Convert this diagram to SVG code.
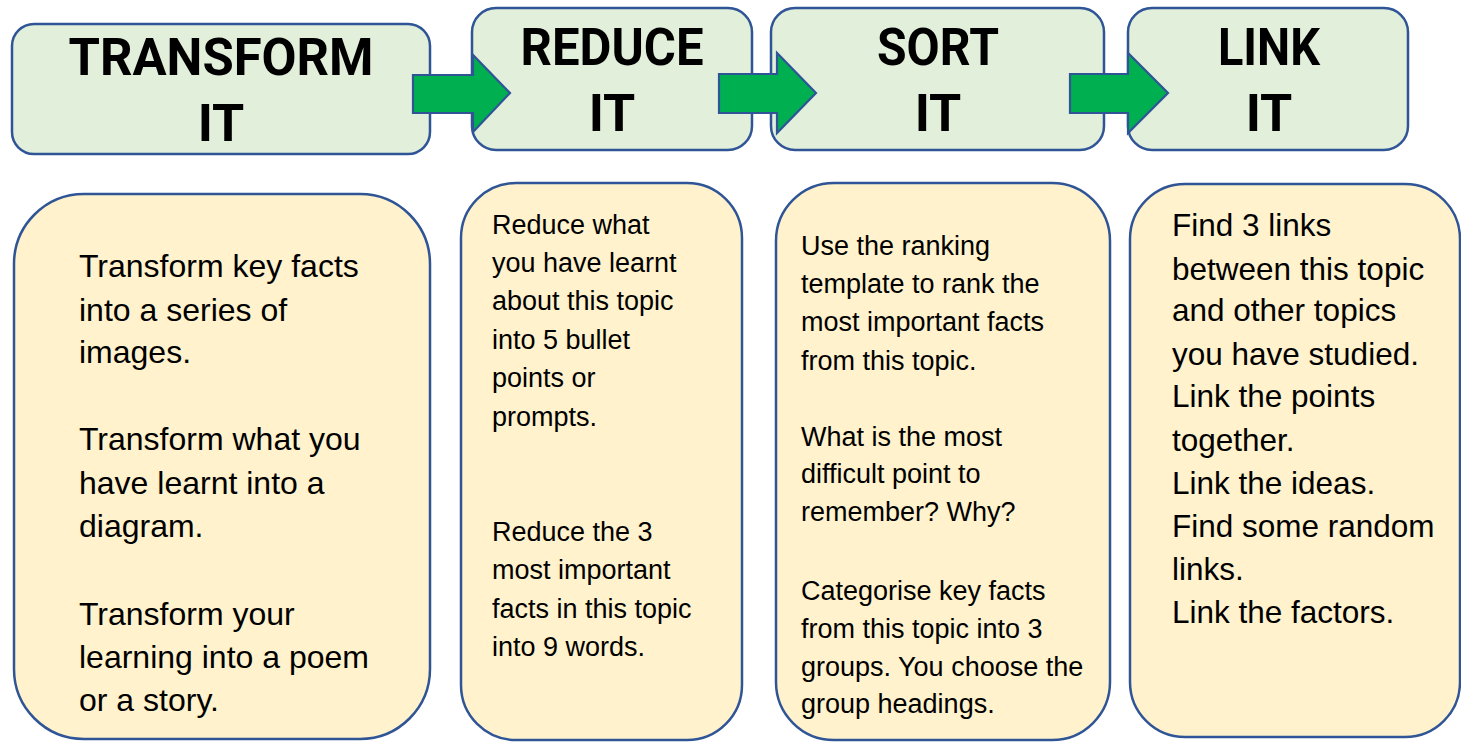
<svg xmlns="http://www.w3.org/2000/svg" width="1461" height="743" viewBox="0 0 1461 743">
<style>
.top{fill:#E2EFDA;stroke:#2F5597;stroke-width:2.5}
.card{fill:#FFF2CC;stroke:#2F5597;stroke-width:2.5}
.arrow{fill:#00B050;stroke:#2F5597;stroke-width:2.2;stroke-linejoin:miter}
.h{font-family:Roboto,"Liberation Sans",sans-serif;font-weight:700;font-size:52px;fill:#000;text-anchor:middle}
.b{font-family:"Liberation Sans",Arial,sans-serif;fill:#000}
.b1{font-size:32px}
.b2{font-size:27px}
.b3{font-size:27px}
.b4{font-size:31.5px}
</style>
<rect width="1461" height="743" fill="#FFFFFF"/>
<g id="node-transform">
<rect class="top" x="12" y="24" width="418" height="130" rx="22"/>
<text class="h" x="221" y="75" textLength="305" lengthAdjust="spacingAndGlyphs">TRANSFORM</text>
<text class="h" x="221" y="141">IT</text>
</g>
<g id="node-reduce">
<rect class="top" x="472" y="8" width="280" height="142" rx="24"/>
<text class="h" x="612" y="65" textLength="183" lengthAdjust="spacingAndGlyphs">REDUCE</text>
<text class="h" x="612" y="131">IT</text>
</g>
<g id="node-sort">
<rect class="top" x="771" y="8" width="333" height="142" rx="24"/>
<text class="h" x="938" y="65" textLength="122" lengthAdjust="spacingAndGlyphs">SORT</text>
<text class="h" x="938" y="131">IT</text>
</g>
<g id="node-link">
<rect class="top" x="1128" y="8" width="280" height="142" rx="24"/>
<text class="h" x="1269" y="65" textLength="102" lengthAdjust="spacingAndGlyphs">LINK</text>
<text class="h" x="1269" y="131">IT</text>
</g>
<g id="connectors">
<polygon class="arrow" points="413,75 473,75 473,55 510,93 473,132 473,113 413,113"/>
<polygon class="arrow" points="719,74 777,74 777,53 816,93 777,133 777,113 719,113"/>
<polygon class="arrow" points="1070,74 1128,74 1128,53 1168,93 1128,133 1128,113 1070,113"/>
</g>
<g id="card-transform">
<rect class="card" x="14" y="194" width="416" height="545" rx="70"/>
<text class="b b1" x="79" y="277">Transform key facts</text>
<text class="b b1" x="79" y="321">into a series of</text>
<text class="b b1" x="79" y="363">images.</text>
<text class="b b1" x="79" y="450">Transform what you</text>
<text class="b b1" x="79" y="494">have learnt into a</text>
<text class="b b1" x="79" y="537">diagram.</text>
<text class="b b1" x="79" y="625">Transform your</text>
<text class="b b1" x="79" y="668">learning into a poem</text>
<text class="b b1" x="79" y="711">or a story.</text>
</g>
<g id="card-reduce">
<rect class="card" x="461" y="183" width="281" height="557" rx="55"/>
<text class="b b2" x="492" y="234">Reduce what</text>
<text class="b b2" x="492" y="272">you have learnt</text>
<text class="b b2" x="492" y="310">about this topic</text>
<text class="b b2" x="492" y="349">into 5 bullet</text>
<text class="b b2" x="492" y="387">points or</text>
<text class="b b2" x="492" y="426">prompts.</text>
<text class="b b2" x="492" y="541">Reduce the 3</text>
<text class="b b2" x="492" y="579">most important</text>
<text class="b b2" x="492" y="618">facts in this topic</text>
<text class="b b2" x="492" y="656">into 9 words.</text>
</g>
<g id="card-sort">
<rect class="card" x="776" y="183" width="334" height="557" rx="58"/>
<text class="b b3" x="801" y="255">Use the ranking</text>
<text class="b b3" x="801" y="293">template to rank the</text>
<text class="b b3" x="801" y="331">most important facts</text>
<text class="b b3" x="801" y="370">from this topic.</text>
<text class="b b3" x="801" y="446">What is the most</text>
<text class="b b3" x="801" y="483">difficult point to</text>
<text class="b b3" x="801" y="521">remember? Why?</text>
<text class="b b3" x="801" y="600">Categorise key facts</text>
<text class="b b3" x="801" y="638">from this topic into 3</text>
<text class="b b3" x="801" y="676">groups. You choose the</text>
<text class="b b3" x="801" y="713">group headings.</text>
</g>
<g id="card-link">
<rect class="card" x="1130" y="184" width="330" height="553" rx="55"/>
<text class="b b4" x="1172" y="236">Find 3 links</text>
<text class="b b4" x="1172" y="280">between this topic</text>
<text class="b b4" x="1172" y="321">and other topics</text>
<text class="b b4" x="1172" y="365">you have studied.</text>
<text class="b b4" x="1172" y="407">Link the points</text>
<text class="b b4" x="1172" y="451">together.</text>
<text class="b b4" x="1172" y="494">Link the ideas.</text>
<text class="b b4" x="1172" y="537">Find some random</text>
<text class="b b4" x="1172" y="580">links.</text>
<text class="b b4" x="1172" y="623">Link the factors.</text>
</g>
</svg>
